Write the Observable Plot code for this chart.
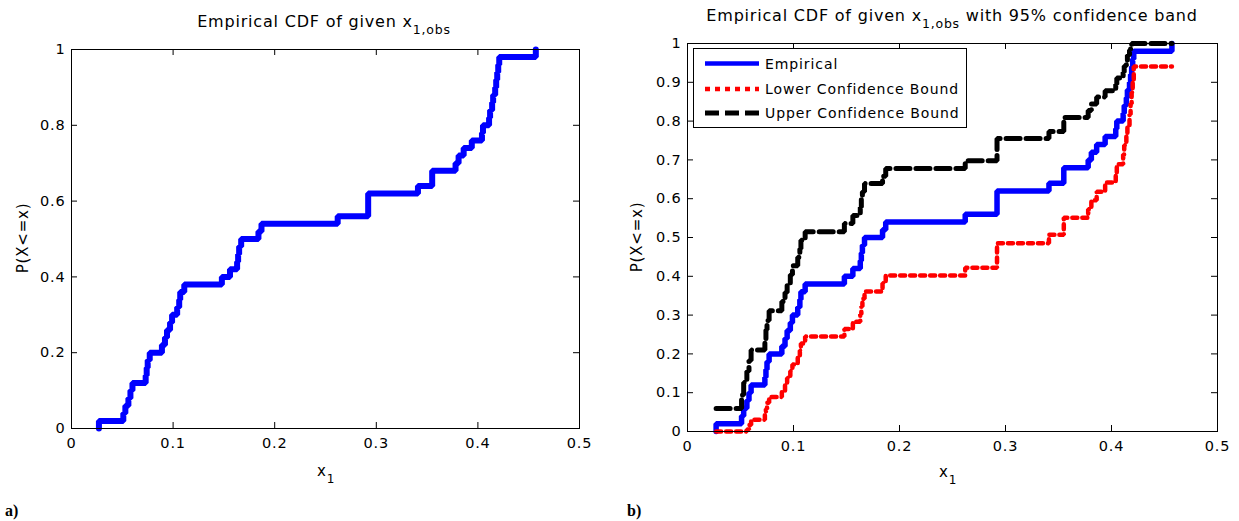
<!DOCTYPE html>
<html>
<head>
<meta charset="utf-8">
<script src="https://cdn.jsdelivr.net/npm/d3@7"></script>
<script src="https://cdn.jsdelivr.net/npm/@observablehq/plot@0.6"></script>
<style>
  body { margin: 0; background: #fff; }
  #fig { position: relative; width: 1239px; height: 521px; overflow: hidden; background: #fff; }
  .panel { position: absolute; top: 0; }
  #overlay { position: absolute; left: 0; top: 0; pointer-events: none; font-family: "DejaVu Sans", sans-serif; }
</style>
</head>
<body>
<div id="fig">
  <div class="panel" id="panelA" style="left:0px"></div>
  <div class="panel" id="panelB" style="left:620px"></div>
  <svg id="overlay" width="1239" height="521"></svg>
</div>
<script>
// Sorted distinct sample values of x1 (jump locations of the empirical CDF)
const xJump = [0.027, 0.051, 0.053, 0.056, 0.058, 0.060, 0.073, 0.074, 0.075, 0.077,
               0.089, 0.092, 0.094, 0.097, 0.099, 0.104, 0.106, 0.107, 0.111, 0.148,
               0.156, 0.163, 0.164, 0.165, 0.167, 0.184, 0.187, 0.262, 0.292, 0.341,
               0.355, 0.378, 0.381, 0.386, 0.394, 0.404, 0.405, 0.411, 0.412, 0.414,
               0.415, 0.417, 0.418, 0.419, 0.420, 0.421, 0.457];

// Empirical CDF value reached at each jump
const cdf = [0.02, 0.04, 0.06, 0.08, 0.10, 0.12, 0.14, 0.16, 0.18, 0.20,
             0.22, 0.24, 0.26, 0.28, 0.30, 0.32, 0.34, 0.36, 0.38, 0.40,
             0.42, 0.44, 0.46, 0.48, 0.50, 0.52, 0.54, 0.56, 0.62, 0.64,
             0.68, 0.70, 0.72, 0.74, 0.76, 0.78, 0.80, 0.82, 0.84, 0.86,
             0.88, 0.90, 0.92, 0.94, 0.96, 0.98, 1.00];

// 95% lower confidence bound at each jump (undefined at the last one)
const lower = [0, 0, 0, 0.005, 0.017, 0.030, 0.044, 0.058, 0.074, 0.089,
               0.105, 0.122, 0.138, 0.156, 0.173, 0.191, 0.209, 0.227, 0.245, 0.264,
               0.283, 0.302, 0.322, 0.342, 0.361, 0.382, 0.402, 0.422, 0.485, 0.507,
               0.551, 0.573, 0.596, 0.618, 0.642, 0.665, 0.689, 0.714, 0.738, 0.764,
               0.790, 0.817, 0.845, 0.874, 0.906, 0.941, null];

// 95% upper confidence bound at each jump (undefined at the last one)
const upper = [0.059, 0.094, 0.126, 0.155, 0.183, 0.210, 0.236, 0.262, 0.286, 0.311,
               0.335, 0.358, 0.382, 0.404, 0.427, 0.449, 0.471, 0.493, 0.515, 0.536,
               0.557, 0.578, 0.598, 0.618, 0.639, 0.658, 0.678, 0.698, 0.755, 0.773,
               0.809, 0.827, 0.844, 0.862, 0.878, 0.895, 0.911, 0.926, 0.942, 0.956,
               0.970, 0.983, 0.995, 1, 1, 1, null];

// Axis ticks
const xTicks = [0, 0.1, 0.2, 0.3, 0.4, 0.5];
const yTicksA = [0, 0.2, 0.4, 0.6, 0.8, 1];
const yTicksB = [0, 0.1, 0.2, 0.3, 0.4, 0.5, 0.6, 0.7, 0.8, 0.9, 1];

// Legend entries for the confidence-band panel
const legendLabels = ["Empirical", "Lower Confidence Bound", "Upper Confidence Bound"];

// Expand a step series into vertices the way a stairs plot does:
// level y[i] holds from x[i] to x[i+1], then jumps.
function stairs(xs, ys) {
  const pts = [];
  for (let i = 0; i < xs.length; i++) {
    pts.push({x: xs[i], y: ys[i]});
    if (i < xs.length - 1) pts.push({x: xs[i + 1], y: ys[i]});
  }
  return pts;
}

// The CDF starts at 0 at the smallest sample; bounds are undefined there.
const xs = [xJump[0], ...xJump];
const empSteps = stairs(xs, [0, ...cdf]);
const loSteps = stairs(xs, [null, ...lower]);
const upSteps = stairs(xs, [null, ...upper]);

const fmt = d => String(d);

function panel({width, height, mt, mr, mb, ml, yTicks, lines}) {
  const iw = width - ml - mr, ih = height - mt - mb, T = 6;
  return Plot.plot({
    width, height,
    marginTop: mt, marginRight: mr, marginBottom: mb, marginLeft: ml,
    style: {fontFamily: '"DejaVu Sans", sans-serif', fontSize: "14.5px", letterSpacing: "0.8px", color: "black", background: "white"},
    x: {domain: [0, 0.5]},
    y: {domain: [0, 1]},
    marks: [
      // inward ticks on all four sides
      Plot.ruleX(xTicks, {x: d => d, insetTop: ih - T, stroke: "black"}),
      Plot.ruleX(xTicks, {x: d => d, insetBottom: ih - T, stroke: "black"}),
      Plot.ruleY(yTicks, {y: d => d, insetRight: iw - T, stroke: "black"}),
      Plot.ruleY(yTicks, {y: d => d, insetLeft: iw - T, stroke: "black"}),
      Plot.axisX(xTicks, {anchor: "bottom", tickSize: 0, tickPadding: 9, tickFormat: fmt, label: null}),
      Plot.axisY(yTicks, {anchor: "left", tickSize: 0, tickPadding: 6, tickFormat: fmt, label: null}),
      ...lines,
      Plot.frame({stroke: "black"})
    ]
  });
}

const figA = panel({
  width: 600, height: 470, mt: 49, mr: 21, mb: 42, ml: 71, yTicks: yTicksA,
  lines: [Plot.line(empSteps, {x: "x", y: "y", stroke: "#0000ff", strokeWidth: 6, strokeLinejoin: "miter"})]
});

const figB = panel({
  width: 619, height: 470, mt: 43, mr: 22, mb: 39, ml: 67, yTicks: yTicksB,
  lines: [
    Plot.line(empSteps, {x: "x", y: "y", stroke: "#0000ff", strokeWidth: 5.5, strokeLinejoin: "miter"}),
    Plot.line(loSteps, {x: "x", y: "y", stroke: "#ff0000", strokeWidth: 4.5, strokeDasharray: "5,5", strokeLinejoin: "miter"}),
    Plot.line(upSteps, {x: "x", y: "y", stroke: "#000000", strokeWidth: 5, strokeDasharray: "14,6", strokeLinejoin: "miter"})
  ]
});

document.getElementById("panelA").appendChild(figA);
document.getElementById("panelB").appendChild(figB);

// Titles, axis labels, legend and panel letters
const ov = d3.select("#overlay");

function title(x, y, before, sub, after) {
  const t = ov.append("text").attr("x", x).attr("y", y).attr("text-anchor", "middle")
    .attr("font-size", 16).attr("letter-spacing", "0.8px").attr("fill", "black");
  t.append("tspan").text(before);
  t.append("tspan").attr("dy", 7).attr("font-size", 12.5).text(sub);
  if (after) t.append("tspan").attr("dy", -7).text(after);
}
title(324, 27, "Empirical CDF of given x", "1,obs", null);
title(952, 21, "Empirical CDF of given x", "1,obs", " with 95% confidence band");

function ylabel(x, y) {
  ov.append("text").attr("transform", `translate(${x},${y}) rotate(-90)`)
    .attr("text-anchor", "middle").attr("font-size", 15).attr("letter-spacing", "0.8px")
    .text("P(X<=x)");
}
ylabel(28, 238);
ylabel(642, 237);

function xlabel(x, y) {
  const t = ov.append("text").attr("x", x).attr("y", y).attr("text-anchor", "middle")
    .attr("font-size", 15).attr("letter-spacing", "0.8px");
  t.append("tspan").text("x");
  t.append("tspan").attr("dy", 7).attr("font-size", 12).text("1");
}
xlabel(326, 476);
xlabel(948, 477);

ov.append("text").attr("x", 5).attr("y", 516).attr("font-family", '"Liberation Serif", serif')
  .attr("font-weight", "bold").attr("font-size", 16).text("a)");
ov.append("text").attr("x", 627).attr("y", 516).attr("font-family", '"Liberation Serif", serif')
  .attr("font-weight", "bold").attr("font-size", 16).text("b)");

// Legend box
const lg = ov.append("g");
lg.append("rect").attr("x", 693.5).attr("y", 48.5).attr("width", 273).attr("height", 79)
  .attr("fill", "white").attr("stroke", "black");
const legendStyles = [
  {stroke: "#0000ff", width: 4.5, dash: null},
  {stroke: "#ff0000", width: 4.5, dash: "5,5"},
  {stroke: "#000000", width: 5, dash: "14,6"}
];
const rowY = [63.5, 89, 113];
legendLabels.forEach((label, i) => {
  const s = legendStyles[i];
  lg.append("line").attr("x1", 705).attr("x2", 759).attr("y1", rowY[i]).attr("y2", rowY[i])
    .attr("stroke", s.stroke).attr("stroke-width", s.width).attr("stroke-dasharray", s.dash);
  lg.append("text").attr("x", 765).attr("y", rowY[i] + 5).attr("font-size", 14)
    .attr("letter-spacing", "0.9px").text(label);
});
</script>
</body>
</html>
